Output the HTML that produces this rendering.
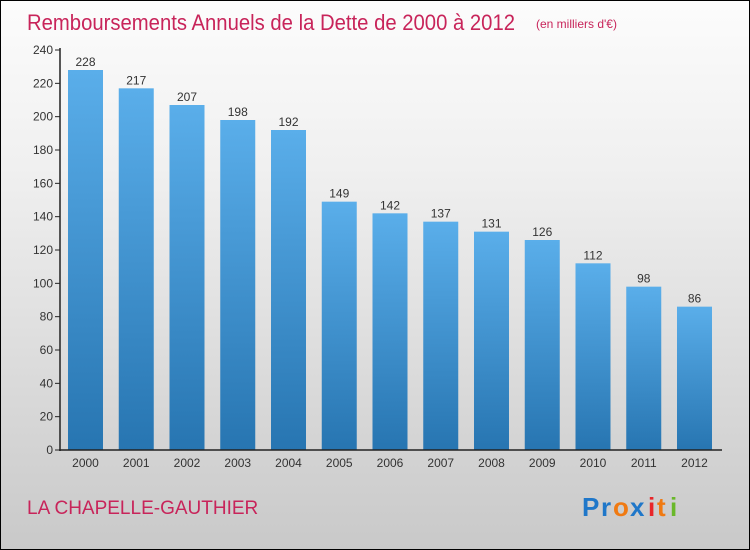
<!DOCTYPE html>
<html><head><meta charset="utf-8"><style>
html,body{margin:0;padding:0}
body{width:750px;height:550px;overflow:hidden;font-family:"Liberation Sans",sans-serif}
#wrap{position:absolute;left:0;top:0;width:748px;height:548px;border:1px solid #000;background:linear-gradient(#fcfcfc,#f0f0f0 30%,#c9c9c9)}
</style></head><body>
<div id="wrap">
<svg width="748" height="548" viewBox="1 1 748 548" id="svg" style="position:absolute;left:0;top:0">
<defs><linearGradient id="bg" x1="0" y1="0" x2="0" y2="1"><stop offset="0" stop-color="#5aaeea"/><stop offset="1" stop-color="#2775b1"/></linearGradient></defs>
<text x="27" y="30" font-size="22" fill="#c8245a" textLength="488" lengthAdjust="spacingAndGlyphs">Remboursements Annuels de la Dette de 2000 à 2012</text>
<text x="536" y="28" font-size="12" fill="#c8245a">(en milliers d'€)</text>
<g id="grid"></g><g id="bars"></g>
<line x1="60" y1="48" x2="60" y2="451" stroke="#222" stroke-width="1.5"/>
<line x1="59" y1="450" x2="722" y2="450" stroke="#222" stroke-width="1.5"/>
<text x="27" y="514" font-size="19" fill="#c8245a">LA CHAPELLE-GAUTHIER</text>
<g font-size="26" font-weight="bold">
<text x="582" y="516" fill="#1f77c9">P</text><text x="601" y="516" fill="#1f77c9">r</text><text x="613" y="516" fill="#f07a12">o</text><text x="630" y="516" fill="#1f77c9">x</text><text x="648" y="516" fill="#e8262a">i</text><text x="657" y="516" fill="#f07a12">t</text><text x="670" y="516" fill="#6ab82a">i</text></g>
</svg></div>
<script>
const years=["2000","2001","2002","2003","2004","2005","2006","2007","2008","2009","2010","2011","2012"];
const values=[228,217,207,198,192,149,142,137,131,126,112,98,86];
const yTicks=[0,20,40,60,80,100,120,140,160,180,200,220,240];
const NS="http://www.w3.org/2000/svg";
const y=v=>450-v*400/240, x=i=>68+i*50.75;
const g=document.getElementById('grid'),b=document.getElementById('bars');
function mk(t,a,p){const e=document.createElementNS(NS,t);for(const k in a)e.setAttribute(k,a[k]);p.appendChild(e);return e;}
yTicks.forEach(t=>{
 const l=mk('line',{x1:55,x2:60,y1:y(t),y2:y(t),stroke:'#222'},g);
 
 
 const tx=mk('text',{x:53,y:y(t)+4,'font-size':12,fill:'#333','text-anchor':'end'},g);tx.textContent=t;
 
 
});
values.forEach((v,i)=>{
 const r=mk('rect',{x:x(i),y:y(v),width:35,height:450-y(v),fill:'url(#bg)'},b);
 
 
 const t=mk('text',{x:x(i)+17.5,y:y(v)-4,'font-size':12,fill:'#333','text-anchor':'middle'},b);t.textContent=v;
 
 
 const xl=mk('text',{x:x(i)+17.5,y:467,'font-size':12,fill:'#333','text-anchor':'middle'},b);xl.textContent=years[i];
 
 
});
</script>
</body></html>
